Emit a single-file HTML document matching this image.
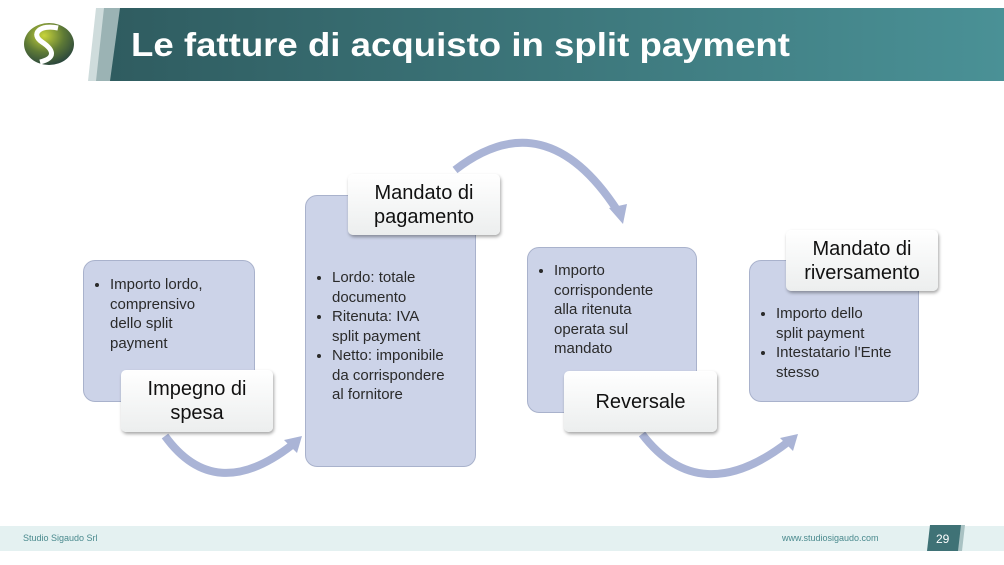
<!DOCTYPE html>
<html><head><meta charset="utf-8"><style>
body{margin:0;width:1004px;height:565px;position:relative;background:#fff;font-family:"Liberation Sans","DejaVu Sans",sans-serif;overflow:hidden}
.box{position:absolute;background:#ccd3e8;border:1.5px solid #a9b2cc;border-radius:12px;box-sizing:border-box;color:#2a2a2a;font-size:15px;line-height:19.5px;white-space:nowrap}
.box ul{margin:0;padding:0 0 0 26px}
.box li{margin:0}
.lab{position:absolute;background:linear-gradient(#fff,#eceeee);border-radius:5px;box-shadow:1px 2px 3px rgba(0,0,0,.35);box-sizing:border-box;text-align:center;font-size:20px;line-height:24px;color:#111;display:flex;align-items:center;justify-content:center}
</style></head><body>
<svg style="position:absolute;left:0;top:0" width="1004" height="90">
<defs><linearGradient id="g" x1="0" x2="1"><stop offset="0" stop-color="#2f5c60"/><stop offset="1" stop-color="#4a9196"/></linearGradient>
<radialGradient id="lg" cx=".4" cy=".3" r=".8"><stop offset="0" stop-color="#c8d43a"/><stop offset=".5" stop-color="#5e7a36"/><stop offset="1" stop-color="#1e3a3e"/></radialGradient></defs>
<polygon points="96,8 1004,8 1004,81 88,81" fill="#cfdcdc"/>
<polygon points="104,8 1004,8 1004,81 96,81" fill="#9bb3b4"/>
<polygon points="120,8 1004,8 1004,81 110,81" fill="url(#g)"/>
<ellipse cx="49" cy="44" rx="25" ry="21" fill="url(#lg)"/>
<path d="M58,28 C40,24 30,34 42,42 C54,50 56,58 40,62" stroke="#fff" stroke-width="5" fill="none"/>
<text x="131" y="56" font-family="Liberation Sans,sans-serif" font-weight="bold" font-size="33" fill="#fff" textLength="659" lengthAdjust="spacingAndGlyphs">Le fatture di acquisto in split payment</text>
</svg>
<div class="box" style="left:83px;top:260px;width:172px;height:142px;padding:14px 6px 0 0"><ul><li>Importo lordo,<br>comprensivo<br>dello split<br>payment</li></ul></div>
<div class="box" style="left:305px;top:195px;width:171px;height:272px;padding:72px 6px 0 0"><ul><li>Lordo: totale<br>documento</li><li>Ritenuta: IVA<br>split payment</li><li>Netto: imponibile<br>da corrispondere<br>al fornitore</li></ul></div>
<div class="box" style="left:527px;top:247px;width:170px;height:166px;padding:13px 6px 0 0"><ul><li>Importo<br>corrispondente<br>alla ritenuta<br>operata sul<br>mandato</li></ul></div>
<div class="box" style="left:749px;top:260px;width:170px;height:142px;padding:43px 6px 0 0"><ul><li>Importo dello<br>split payment</li><li>Intestatario l'Ente<br>stesso</li></ul></div>
<svg style="position:absolute;left:0;top:0" width="1004" height="565">
<g stroke="#aab4d6" stroke-width="8" fill="none">
<path d="M165,436 Q215,505 292,445"/>
<path d="M455,170 Q545,100 617,210"/>
<path d="M642,434 Q700,510 788,442"/>
</g>
<g fill="#aab4d6">
<polygon points="302,436 284,440 297,453"/>
<polygon points="623,224 609,208 627,204"/>
<polygon points="798,434 780,438 793,451"/>
</g>
</svg>
<div class="lab" style="left:121px;top:370px;width:152px;height:62px">Impegno di<br>spesa</div>
<div class="lab" style="left:348px;top:174px;width:152px;height:61px">Mandato di<br>pagamento</div>
<div class="lab" style="left:564px;top:371px;width:153px;height:61px">Reversale</div>
<div class="lab" style="left:786px;top:230px;width:152px;height:61px">Mandato di<br>riversamento</div>
<div style="position:absolute;left:0;top:526px;width:1004px;height:25px;background:#e4f1f1"></div>
<div style="position:absolute;left:23px;top:533px;font-size:9px;color:#4a8a8e">Studio Sigaudo Srl</div>
<div style="position:absolute;left:782px;top:533px;font-size:9px;color:#4a8a8e">www.studiosigaudo.com</div>
<svg style="position:absolute;left:925px;top:524px" width="42" height="28"><polygon points="6,1 40,1 37,27 3,27" fill="#a9c2c3"/><polygon points="5,1 36,1 33,27 2,27" fill="#3f7276"/><text x="11" y="19" font-size="12" fill="#fff" font-family="Liberation Sans,sans-serif">29</text></svg>
</body></html>
